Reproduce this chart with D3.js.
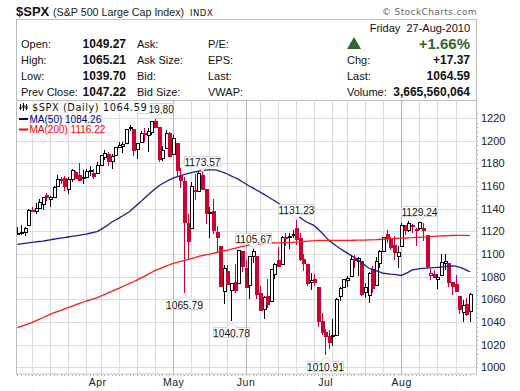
<!DOCTYPE html>
<html><head><meta charset="utf-8">
<script src="https://cdnjs.cloudflare.com/ajax/libs/d3/7.8.5/d3.min.js"></script>
<style>
html,body{margin:0;padding:0;background:#fff}
svg{display:block}
text{font-family:"Liberation Sans",Arial,sans-serif}
</style></head><body><div id="c"></div>
<script>
const days=["3/2","3/3","3/4","3/5","3/8","3/9","3/10","3/11","3/12","3/15","3/16","3/17","3/18","3/19","3/22","3/23","3/24","3/25","3/26","3/29","3/30","3/31","4/1","4/5","4/6","4/7","4/8","4/9","4/12","4/13","4/14","4/15","4/16","4/19","4/20","4/21","4/22","4/23","4/26","4/27","4/28","4/29","4/30","5/3","5/4","5/5","5/6","5/7","5/10","5/11","5/12","5/13","5/14","5/17","5/18","5/19","5/20","5/21","5/24","5/25","5/26","5/27","5/28","6/1","6/2","6/3","6/4","6/7","6/8","6/9","6/10","6/11","6/14","6/15","6/16","6/17","6/18","6/21","6/22","6/23","6/24","6/25","6/28","6/29","6/30","7/1","7/2","7/6","7/7","7/8","7/9","7/12","7/13","7/14","7/15","7/16","7/19","7/20","7/21","7/22","7/23","7/26","7/27","7/28","7/29","7/30","8/2","8/3","8/4","8/5","8/6","8/9","8/10","8/11","8/12","8/13","8/16","8/17","8/18","8/19","8/20","8/23","8/24","8/25","8/26","8/27"];
const opens=[1117,1119.4,1119.1,1125.1,1138.4,1137.6,1140.2,1143.9,1151.7,1148.5,1150.8,1159.9,1166.1,1166.7,1157.2,1166.5,1172.7,1170,1167.6,1167.7,1173.8,1171.8,1171.2,1178.7,1186,1188.2,1181.8,1187.1,1194.9,1195.9,1198.7,1210.8,1210.2,1192.1,1199,1207.2,1205,1207.9,1217.1,1211.9,1184.6,1193.3,1206.8,1188.6,1197.5,1169.2,1164.4,1127,1122.3,1156.4,1155.4,1170,1157.2,1136.5,1138,1119.6,1107.3,1067.3,1084.8,1067.4,1075.5,1074.3,1102.6,1087.3,1073,1098.8,1098.4,1065.8,1051,1062.8,1058.8,1082.6,1095,1091.2,1114,1115.98,1117.4,1122.8,1113.9,1095.6,1090.9,1075.1,1077.5,1071.1,1040.6,1031.1,1027.6,1028.1,1028.5,1062.9,1070.5,1077.2,1080.6,1095.6,1094.2,1093.9,1066.9,1064.5,1086.7,1072.1,1092.2,1102.9,1117.4,1112.8,1108.1,1098.4,1107.5,1125.3,1121.1,1125.8,1122.1,1122.8,1122.9,1116.9,1081.5,1082.2,1077.5,1081.2,1092.1,1092.4,1075.6,1073.4,1063,1049,1056.3,1049.27];
const highs=[1123.5,1125.6,1123.7,1139.4,1141.1,1145.4,1148.3,1150.2,1153.4,1151,1160.3,1169.8,1167.8,1169.2,1167.8,1174.7,1173,1180.7,1173.9,1174.9,1177.8,1174.6,1181.4,1187.7,1191.8,1189.6,1188,1194.7,1199.2,1199,1210.7,1213.9,1210.2,1197.9,1208.6,1211,1211,1217.3,1219.8,1211.9,1195,1209.4,1208,1205.1,1197.5,1176,1167.6,1135.1,1163.9,1170.5,1172,1173.57,1157.2,1141.9,1148.7,1124.3,1107.3,1090.2,1090,1074.8,1090.8,1103.5,1102.6,1094.8,1098.4,1105.67,1098.4,1071.4,1063,1077.7,1087,1092,1105.9,1115.6,1118.7,1118.5,1121,1131.23,1118.5,1099.6,1090.9,1083.6,1082.6,1071.1,1048,1033.6,1032.9,1042.5,1060.9,1071.3,1078.2,1080.8,1099.5,1099.1,1096.9,1093.9,1074.7,1083.9,1089,1097.5,1103.7,1115,1121,1114.7,1115.9,1107,1127.3,1125.4,1128.8,1126.6,1123.1,1129.24,1127.2,1116.9,1086.7,1086.3,1082.6,1100.1,1099.8,1092.4,1075.6,1081.6,1063,1059.4,1061.5,1065.21];
const lows=[1116.5,1116.6,1116.1,1125.1,1136.8,1134.9,1140.1,1138.9,1146.9,1141.5,1150.4,1159.9,1161.9,1155.3,1152.9,1163.8,1166,1165.1,1161.5,1167.7,1168.9,1165.8,1170.7,1178.7,1182.8,1177.3,1175.1,1187.1,1194.7,1188.8,1198.7,1208.5,1186.8,1183.7,1199,1198.9,1190.1,1205.1,1211.1,1181.6,1181.8,1193.3,1186.3,1188.6,1168.1,1158.2,1065.79,1095,1122.3,1147.7,1155.4,1156.1,1126.1,1114,1117.2,1100.7,1071.6,1055.9,1072.7,1040.78,1065.6,1074.3,1084,1069.9,1060.5,1091.8,1060.5,1049.9,1042.2,1052.3,1058.8,1077.5,1089,1091.2,1107.1,1104.7,1113.9,1108.2,1094.2,1085.3,1071.6,1067.9,1071.5,1035.2,1028.3,1010.91,1015.9,1018.4,1028.5,1058.2,1070.5,1070.6,1080.6,1087.7,1080.6,1063.3,1061.1,1056.9,1065.3,1072.1,1087.9,1101.8,1109.8,1103.1,1094.8,1088,1107.5,1116.8,1119.5,1118.9,1107.2,1120.9,1111.6,1088,1076.7,1079,1069.5,1081.2,1085.6,1070.8,1063.9,1067.1,1046.7,1039.8,1045.4,1039.7];
const closes=[1118.3,1118.8,1123,1138.7,1138.5,1140.5,1145.6,1150.2,1150,1150.5,1159.5,1166.2,1165.8,1159.9,1165.8,1174.2,1167.7,1165.7,1166.6,1173.2,1173.3,1169.4,1178.1,1187.4,1189.4,1182.4,1186.4,1194.4,1196.5,1197.3,1210.7,1211.7,1192.1,1197.5,1207.2,1205.9,1208.7,1217.3,1212.1,1183.7,1191.4,1206.8,1186.7,1202.3,1173.6,1165.9,1128.2,1110.9,1159.7,1155.8,1171.7,1157.4,1135.7,1136.9,1120.8,1115.1,1071.6,1087.7,1073.7,1074,1068,1103.1,1089.4,1070.7,1098.4,1102.8,1064.9,1050.5,1062,1055.7,1086.8,1091.6,1089.6,1115.2,1114.6,1116,1117.5,1113.2,1095.3,1092,1073.7,1076.8,1074.6,1041.2,1030.7,1027.4,1022.6,1028.1,1060.3,1070.3,1078,1078.8,1095.3,1095.2,1096.5,1064.9,1071.3,1083.5,1069.6,1093.7,1102.7,1115,1113.8,1106.1,1101.5,1101.6,1125.9,1120.5,1127.2,1125.8,1121.6,1127.8,1121.1,1089.5,1083.6,1079.3,1079.4,1092.5,1094.2,1075.6,1071.7,1067.4,1051.9,1055.3,1047.22,1064.59];
const ma50=[1108.5,1109,1109.4,1109.8,1110.2,1110.6,1111,1111.4,1111.9,1112.5,1113,1113.5,1114,1114.5,1115,1115.5,1116,1116.5,1117,1117.6,1118.3,1119,1119.7,1121.5,1123.5,1125.5,1128,1129.8,1131.6,1133.5,1135.5,1137.5,1140.3,1143.2,1146,1149,1151.8,1154.6,1157.3,1160,1162,1163.7,1165.4,1167,1168,1169,1170,1171,1171.8,1172.4,1173,1173.5,1174,1174.2,1174.2,1174,1173,1171.8,1170.6,1169,1167.5,1166,1164,1162,1160,1158.3,1156.5,1154.7,1152.8,1151,1149,1147,1145,1143,1141,1139,1137,1135,1132.5,1130,1128,1126.5,1125,1122,1119,1115.5,1112,1109.6,1107.3,1105,1103,1101,1099,1097,1095,1092.5,1090,1087.6,1086.5,1085.4,1084.2,1083,1082.6,1082.2,1082,1081.5,1081,1082.5,1084,1086,1086.5,1087,1087.3,1087.6,1087.8,1088,1088.2,1088.5,1088.8,1089.2,1089.5,1089.2,1088.5,1087.3,1085.8,1084.3];
const ma200=[1035,1036.1,1037.2,1038.3,1039.5,1040.9,1042.3,1043.7,1045.2,1046.8,1048,1049.2,1050.3,1051.5,1052.6,1053.8,1055,1056.2,1057.4,1058.5,1059.5,1060.4,1061.4,1062.8,1064.2,1065.6,1067,1068.4,1069.7,1071.2,1072.6,1074.1,1075.5,1077,1078.7,1080.3,1082,1083.7,1085.3,1086.6,1087.9,1089.2,1090.5,1091.8,1092.6,1093.4,1094.2,1095,1095.8,1096.8,1097.8,1098.5,1099.2,1099.9,1100.6,1101.3,1102,1102.8,1103.5,1104.2,1105,1105.8,1106.5,1107.2,1108,1108.3,1108.6,1108.9,1109.1,1109.4,1109.7,1109.8,1109.8,1109.9,1110,1110,1110.2,1110.5,1110.7,1111,1111.2,1111.5,1111.7,1112,1112,1112,1112,1112,1112,1112,1112,1112,1112,1112.1,1112.2,1112.3,1112.3,1112.4,1112.5,1112.6,1112.8,1113,1113.2,1113.4,1113.6,1113.8,1114,1114.1,1114.3,1114.4,1114.6,1114.7,1114.9,1115.1,1115.4,1115.6,1115.8,1116,1116.1,1116.2,1116.3,1116.4,1116.5,1116.5,1116.4,1116.2];
const yTicks=[1000,1020,1040,1060,1080,1100,1120,1140,1160,1180,1200,1220];
const callHigh=["4/26","5/13","6/3","6/21","8/9"];
const callLow=["5/6","5/25","7/1"];
const quoteRows=[["Open:","1049.27","Ask:","P/E:"],["High:","1065.21","Ask Size:","EPS:"],["Low:","1039.70","Bid:","Last:"],["Prev Close:","1047.22","Bid Size:","VWAP:"]];
const rightRows=[["Chg:","+17.37"],["Last:","1064.59"],["Volume:","3,665,560,064"]];

const W=520,H=391,L=17,R=477,T=100,B=374;
const RED="#cc0033",GRID="#dcdcdc",MONTH="#b4b4b4",BORDER="#bdbdbd";
const svg=d3.select("#c").append("svg").attr("width",W).attr("height",H);
const x=d3.scaleLinear().domain([0,days.length-1]).range([17.4,470]);
const y=d3.scaleLinear().domain([1000,1220]).range([367.3,118]);
const dt=days.map(s=>{const[m,d]=s.split("/").map(Number);return new Date(Date.UTC(2010,m-1,d));});
const px=v=>Math.round(v)+.5;
const weekFirst=d3.range(days.length).filter(i=>i>0&&d3.utcMonday.count(dt[i-1],dt[i])>0);
const monthFirst=d3.range(days.length).filter(i=>i>0&&dt[i].getUTCMonth()!==dt[i-1].getUTCMonth());

// header
const t=(s,xx,yy,size,opt={})=>svg.append("text").text(s).attr("x",xx).attr("y",yy).attr("font-size",size)
 .attr("font-weight",opt.b?"bold":null).attr("fill",opt.c||"#111").attr("text-anchor",opt.a||"start")
 .style("letter-spacing",opt.ls||null).style("font-family",opt.f||null);
t("$SPX",16,16,13,{b:1});
t("(S&P 500 Large Cap Index)",53,16,10.7,{c:"#222"});
t("INDX",190,15.5,8.5,{c:"#222",ls:"0.5px",f:"'DejaVu Sans'"});
t("© StockCharts.com",477,15,9,{a:"end",c:"#666",ls:"0.4px",f:"'DejaVu Sans'"});
svg.append("rect").attr("x",16.5).attr("y",19.5).attr("width",460).attr("height",354.5).attr("fill","none").attr("stroke",BORDER);
quoteRows.forEach((r,i)=>{const b=48+i*16;
 t(r[0],21,b,11);t(r[1],126,b,12,{b:1,a:"end"});t(r[2],137,b,11);t(r[3],208,b,11);});
t("Friday  27-Aug-2010",470,32,11,{a:"end"}).style("white-space","pre");
t("+1.66%",470,49,15,{b:1,a:"end",c:"#336633"});
svg.append("path").attr("d",d3.line()([[354,37],[361,49],[347,49]])+"Z").attr("fill","#336633");
rightRows.forEach((r,i)=>{const b=64+i*16;t(r[0],347,b,11);t(r[1],470,b,12,{b:1,a:"end"});});

// plot area
const g=svg.append("g");
g.append("line").attr("x1",L).attr("x2",R).attr("y1",100.5).attr("y2",100.5).attr("stroke",BORDER);
g.selectAll("line.h").data(yTicks).join("line").attr("class","h").attr("x1",L).attr("x2",R)
 .attr("y1",d=>px(y(d))).attr("y2",d=>px(y(d))).attr("stroke",GRID);
g.selectAll("line.v").data(weekFirst).join("line").attr("class","v").attr("y1",T).attr("y2",B)
 .attr("x1",d=>px(x(d))).attr("x2",d=>px(x(d))).attr("stroke",d=>monthFirst.includes(d)?MONTH:GRID);
g.selectAll("rect.bd").data(d3.range(days.length)).join("rect").attr("class","bd")
 .attr("x",d=>Math.round(x(d))).attr("y",375).attr("width",1).attr("height",1).attr("fill","#aaa");
g.selectAll("rect.rd").data(d3.range(1000,1225,4)).join("rect").attr("class","rd")
 .attr("x",477).attr("y",d=>Math.round(y(d))).attr("width",1).attr("height",1).attr("fill","#aaa");
g.selectAll("rect.fd").data(weekFirst).join("rect").attr("class","fd")
 .attr("x",d=>Math.round(x(d))).attr("y",389).attr("width",1).attr("height",1).attr("fill","#ddd");

// candles
svg.append("clipPath").attr("id","clip").append("rect").attr("x",L).attr("y",T).attr("width",R-L).attr("height",B-T);
const cg=svg.append("g").attr("clip-path","url(#clip)").attr("shape-rendering","crispEdges");
const col=i=>i>0&&closes[i]<closes[i-1]?RED:"#000";
const cs=cg.selectAll("g").data(d3.range(days.length)).join("g");
cs.append("line").attr("x1",i=>px(x(i))).attr("x2",i=>px(x(i))).attr("y1",i=>y(highs[i])).attr("y2",i=>y(lows[i])).attr("stroke",col);
cs.append("rect").attr("x",i=>px(x(i))-1.5).attr("width",3)
 .attr("y",i=>Math.round(y(Math.max(opens[i],closes[i])))+.5)
 .attr("height",i=>Math.max(1,Math.round(Math.abs(y(opens[i])-y(closes[i])))))
 .attr("fill",i=>closes[i]>opens[i]?"#fff":col(i)).attr("stroke",col);

// moving averages
const line=d3.line().x((d,i)=>x(i)).y(d=>y(d)).curve(d3.curveLinear);
svg.append("path").attr("d",line(ma50)).attr("fill","none").attr("stroke","#1c1c96").attr("stroke-width",1.3);
svg.append("path").attr("d",line(ma200)).attr("fill","none").attr("stroke","#ff1a1a").attr("stroke-width",1.3);

// callouts
function callout(i,val,up){
 const cx=Math.round(x(i))+.5,vy=Math.round(y(val))+.5,w=36,h=10;
 const top=up?vy-5-h:vy+6,g2=svg.append("g");
 const edge=up?top+h:top,dir=up?1:-1;
 g2.append("path").attr("d",`M${cx-w/2},${top}H${cx+w/2}V${top+h}H${cx-w/2}Z`).attr("fill","#fff").attr("stroke","#d6d6d6");
 g2.append("path").attr("d",`M${cx-5},${edge}L${cx},${edge+dir*5}L${cx+5},${edge}`).attr("fill","#fff").attr("stroke","#d6d6d6");
 g2.append("rect").attr("x",cx-4.5).attr("y",up?edge-1:edge-.5).attr("width",9).attr("height",1.5).attr("fill","#fff");
 g2.append("text").text(val.toFixed(2)).attr("x",cx).attr("y",top+h-1).attr("text-anchor","middle").attr("font-size",10.2).attr("fill","#111");
}
callHigh.forEach(d=>{const i=days.indexOf(d);callout(i,highs[i],true);});
callLow.forEach(d=>{const i=days.indexOf(d);callout(i,lows[i],false);});

// legend
const f="'DejaVu Sans'";
svg.append("rect").attr("x",18).attr("y",102).attr("width",131.5).attr("height",11).attr("fill","#fff");
t("$SPX (Daily) 1064.59",32,111,9.8,{ls:"0.55px",f});
svg.append("rect").attr("x",19).attr("y",118).attr("width",9).attr("height",2).attr("fill","#000088");
t("MA(50) 1084.26",29.5,122.5,10,{c:"#000088"});
svg.append("rect").attr("x",19).attr("y",128.5).attr("width",9).attr("height",2).attr("fill","#ff0000");
t("MA(200) 1116.22",29.5,133,10,{c:"#ff0000"});
[[21,104,110,107,109],[24,103,111,105,108],[27,104,110,106,109]].forEach(c=>{
 svg.append("line").attr("x1",c[0]-.5).attr("x2",c[0]-.5).attr("y1",c[1]).attr("y2",c[2]).attr("stroke","#000");
 svg.append("rect").attr("x",c[0]-1.5).attr("y",c[3]).attr("width",2).attr("height",c[4]-c[3]).attr("fill","#000");
});

// axes
const ay=svg.append("g").attr("transform",`translate(${R},0)`).call(d3.axisRight(y).tickValues(yTicks).tickSize(0).tickPadding(4).tickFormat(d3.format("d")));
ay.select(".domain").remove();ay.selectAll("text").attr("font-size",11).attr("fill","#222").style("font-family","'Liberation Sans'");
const ax=svg.append("g").attr("transform",`translate(0,${B+1})`).call(d3.axisBottom(x).tickValues(monthFirst).tickSize(0).tickPadding(4).tickFormat(i=>d3.utcFormat("%b")(dt[i])));
ax.select(".domain").remove();ax.selectAll("text").attr("font-size",10.5).attr("fill","#222").style("font-family","'Liberation Sans'").style("letter-spacing","0.5px");
</script></body></html>
